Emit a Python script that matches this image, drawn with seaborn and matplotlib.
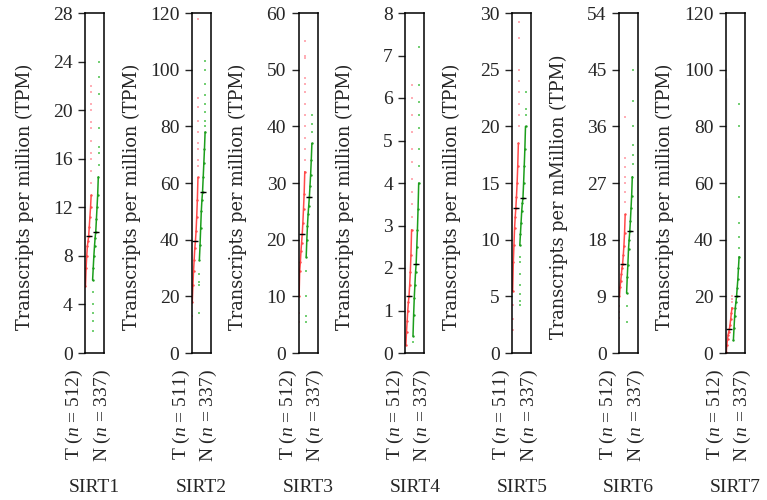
import numpy as np
import pandas as pd
import matplotlib
matplotlib.use("Agg")
import matplotlib.pyplot as plt
import seaborn as sns

# gene panels
genes = ["SIRT1", "SIRT2", "SIRT3", "SIRT4", "SIRT5", "SIRT6", "SIRT7"]
n_tumor = [512, 511, 512, 512, 511, 512, 512]
n_normal = [337, 337, 337, 337, 337, 337, 337]
y_max = [28, 120, 60, 8, 30, 54, 120]
y_step = [4, 20, 10, 1, 5, 9, 20]
y_labels = ["Transcripts per million (TPM)"] * 5 + ["Transcripts per mMillion (TPM)",
                                                    "Transcripts per million (TPM)"]

# medians (black dashes)
t_median = [9.6, 39.5, 21.0, 1.35, 12.8, 14.2, 8.5]
n_median = [10.0, 57.0, 27.5, 2.1, 13.7, 19.3, 20.0]

# dense part of each distribution (read as quantiles) and sparse tail points
sirt1_t_core = [5.5, 7.0, 8.0, 8.8, 9.2, 9.6, 10.4, 11.2, 12.0, 13.0]
sirt1_t_tail = [14, 15, 16, 16.5, 17.5, 18.5, 19, 20, 20.5, 21.5, 22]
sirt1_n_core = [6.0, 7.0, 8.0, 8.8, 9.5, 10.0, 11.0, 12.0, 13.0, 14.5]
sirt1_n_tail = [1.8, 2.6, 3.3, 4.0, 5.0, 15.5, 16.5, 17.0, 18.5, 21.3, 22.7, 24]

sirt2_t_core = [18, 24, 29, 33, 37, 39.5, 43, 48, 54, 62]
sirt2_t_tail = [13, 66, 68, 72, 74, 78, 82, 87, 90, 118]
sirt2_n_core = [33, 38, 44, 50, 54, 57, 62, 67, 72, 78]
sirt2_n_tail = [14, 24, 25, 28, 80, 82, 85, 88, 91, 95, 100, 103]

sirt3_t_core = [10, 14.5, 16, 18, 19.5, 21, 23, 25.5, 28, 32]
sirt3_t_tail = [5.5, 7, 34, 36, 38, 40, 42, 44, 46, 47.5, 48.5, 52, 52.5, 55]
sirt3_n_core = [17, 20, 22.5, 24.5, 26, 27.5, 29.5, 31.5, 34, 37]
sirt3_n_tail = [5.5, 6.5, 10, 14.5, 39, 40.5, 42]

sirt4_t_core = [0.2, 0.5, 0.75, 1.0, 1.2, 1.35, 1.6, 1.9, 2.3, 2.9]
sirt4_t_tail = [3.2, 3.5, 3.8, 4.1, 4.5, 4.8, 5.2, 5.6, 6.0, 6.3]
sirt4_n_core = [0.4, 0.9, 1.3, 1.6, 1.9, 2.1, 2.5, 2.9, 3.4, 4.0]
sirt4_n_tail = [0.25, 4.4, 4.8, 5.3, 5.6, 5.9, 6.3, 7.2]

sirt5_t_core = [5.5, 8, 9.5, 11, 12, 12.8, 13.8, 15, 16.5, 18.5]
sirt5_t_tail = [2, 3, 4.2, 20, 21, 22, 23, 24, 25, 27.8, 29.2]
sirt5_n_core = [9.5, 10.5, 11.5, 12.5, 13.2, 13.7, 15, 16.5, 18, 20]
sirt5_n_tail = [4.2, 4.6, 5.2, 6, 7, 8, 8.5, 21, 21.5, 23]

sirt6_t_core = [9, 10.5, 11.5, 12.5, 13.5, 14.2, 15.5, 17, 19, 22]
sirt6_t_tail = [5.5, 6.5, 7.5, 24, 25.5, 27, 28, 29.5, 31, 37.5]
sirt6_n_core = [9.5, 12, 14, 16.5, 18, 19.3, 21, 23, 25, 28]
sirt6_n_tail = [5, 7.5, 30, 31.5, 33, 36, 40, 45]

sirt7_t_core = [0.5, 3, 5, 6.5, 7.5, 8.5, 10, 12, 14, 16]
sirt7_t_tail = [18, 19, 20]
sirt7_n_core = [4.5, 9, 13, 16, 18, 20, 23, 26, 30, 34]
sirt7_n_tail = [37, 41, 46, 55, 80, 88]
sirt7_t_range = [0, 97]

t_cores = [sirt1_t_core, sirt2_t_core, sirt3_t_core, sirt4_t_core, sirt5_t_core, sirt6_t_core, sirt7_t_core]
t_tails = [sirt1_t_tail, sirt2_t_tail, sirt3_t_tail, sirt4_t_tail, sirt5_t_tail, sirt6_t_tail, sirt7_t_tail]
n_cores = [sirt1_n_core, sirt2_n_core, sirt3_n_core, sirt4_n_core, sirt5_n_core, sirt6_n_core, sirt7_n_core]
n_tails = [sirt1_n_tail, sirt2_n_tail, sirt3_n_tail, sirt4_n_tail, sirt5_n_tail, sirt6_n_tail, sirt7_n_tail]

sns.set_style("white")
plt.rcParams["font.family"] = ["Liberation Serif", "DejaVu Serif"]
plt.rcParams["mathtext.fontset"] = "custom"
plt.rcParams["mathtext.it"] = "Liberation Serif:italic"
plt.rcParams["mathtext.rm"] = "Liberation Serif"

RED, RED_LIGHT = "#ff4a4a", "#ff9aa4"
GREEN, GREEN_LIGHT = "#1c9e1c", "#52c452"
T_POS, N_POS = -0.05, 0.7


def group_frame(core, tail, pos):
    # x follows rank in the dense part; tail points sit at the two ends
    core = sorted(core)
    xs = pos - 0.45 + 0.6 * np.arange(len(core)) / (len(core) - 1)
    core_df = pd.DataFrame({"x": xs, "y": core})
    tx = [pos - 0.45 if v < core[0] else pos + 0.18 for v in tail]
    tail_df = pd.DataFrame({"x": tx, "y": tail})
    return core_df, tail_df, pos - 0.45 + 0.6 * 5 / 9


fig = plt.figure(figsize=(7.67, 5), dpi=100)
for i, gene in enumerate(genes):
    left = 85 + i * 106.8
    ax = fig.add_axes([left / 767, 147 / 500, 19 / 767, 340 / 500])

    if gene == "SIRT7":
        rng = pd.DataFrame({"x": [T_POS - 0.42] * 2, "y": sirt7_t_range})
        sns.lineplot(data=rng, x="x", y="y", color="#b5b5b5", lw=1.0, ax=ax, sort=False)

    for core, tail, pos, c, cl, med in [
        (t_cores[i], t_tails[i], T_POS, RED, RED_LIGHT, t_median[i]),
        (n_cores[i], n_tails[i], N_POS, GREEN, GREEN_LIGHT, n_median[i]),
    ]:
        core_df, tail_df, xm = group_frame(core, tail, pos)
        sns.lineplot(data=core_df, x="x", y="y", color=c, lw=1.1, ax=ax)
        sns.scatterplot(data=core_df, x="x", y="y", color=c, s=3, linewidth=0, ax=ax)
        sns.scatterplot(data=tail_df, x="x", y="y", color=cl, s=2.5, marker="s",
                        linewidth=0, alpha=0.8, ax=ax)
        ax.hlines(med, xm - 0.32, xm + 0.32, color="black", lw=1.0, zorder=5)

    ax.set_xlim(-0.55, 1.45)
    ax.set_ylim(0, y_max[i])
    ax.set_yticks(np.arange(0, y_max[i] + y_step[i] / 2, y_step[i]))
    ax.set_xticks([])
    ax.set_xlabel("")
    ax.set_ylabel(y_labels[i], fontsize=12.8, family=["DejaVu Serif"])
    ax.yaxis.set_label_coords(-2.7, 0.46)
    ax.tick_params(axis="y", direction="out", length=5, width=1, labelsize=14, pad=4, left=True)
    for sp in ax.spines.values():
        sp.set_visible(True)
        sp.set_color("black")
        sp.set_linewidth(1.1)

    ax.text(-0.55, -0.048, f"T ($n$ = {n_tumor[i]})", transform=ax.transAxes,
            rotation=90, ha="center", va="top", fontsize=14)
    ax.text(0.9, -0.048, f"N ($n$ = {n_normal[i]})", transform=ax.transAxes,
            rotation=90, ha="center", va="top", fontsize=14)
    ax.text(0.5, -0.395, gene, transform=ax.transAxes, ha="center", va="center", fontsize=14)

fig.savefig("out.png", dpi=100)
